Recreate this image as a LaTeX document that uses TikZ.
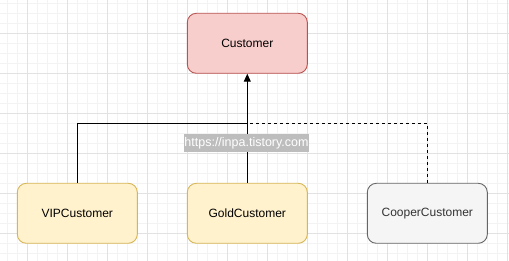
\documentclass[tikz,border=0pt]{standalone}
\usepackage{fontspec}
\setmainfont{Liberation Sans}
\usetikzlibrary{arrows.meta}
\definecolor{redfill}{HTML}{F8CECC}
\definecolor{redline}{HTML}{B85450}
\definecolor{yelfill}{HTML}{FFF2CC}
\definecolor{yelline}{HTML}{D6B656}
\definecolor{grayfill}{HTML}{F5F5F5}
\definecolor{grayline}{HTML}{666666}
\definecolor{graytext}{HTML}{333333}
\definecolor{gridminor}{HTML}{F3F3F3}
\definecolor{gridmajor}{HTML}{E2E2E2}
\definecolor{wmark}{HTML}{BDBDBD}
\begin{document}
\begin{tikzpicture}[x=1pt,y=-1pt,
  box/.style={rectangle,rounded corners=9pt,minimum width=120pt,minimum height=60pt,
    line width=0.9pt,font=\fontsize{12}{14}\selectfont,inner sep=0pt},
  conn/.style={line width=1pt,black},
]
\useasboundingbox (0,0) rectangle (509,261);
\fill[white] (0,0) rectangle (509,261);
% grid
\foreach \i in {0,...,50} \draw[gridminor,line width=0.8pt] (7.3+10*\i,0) -- (7.3+10*\i,261);
\foreach \i in {0,...,25} \draw[gridminor,line width=0.8pt] (0,3.3+10*\i) -- (509,3.3+10*\i);
\foreach \i in {0,...,12} \draw[gridmajor,line width=0.8pt] (27.3+40*\i,0) -- (27.3+40*\i,261);
\foreach \i in {0,...,6} \draw[gridmajor,line width=0.8pt] (0,33.3+40*\i) -- (509,33.3+40*\i);
% nodes
\node[box,fill=redfill,draw=redline] (cust) at (247.3,43.3) {Customer};
\node[box,fill=yelfill,draw=yelline] (vip) at (77.3,213.3) {VIPCustomer};
\node[box,fill=yelfill,draw=yelline] (gold) at (247.3,213.3) {GoldCustomer};
\node[box,fill=grayfill,draw=grayline,text=graytext] (cooper) at (427.3,213.3) {CooperCustomer};
\coordinate (j) at (247.3,123.3);
% connectors
\draw[conn] (vip.north) |- (j);
\draw[conn,dash pattern=on 3pt off 3pt] (cooper.north) |- (j);
\draw[conn,-{Triangle[length=8pt,width=7pt]}] (gold.north) -- (cust.south);
% watermark
\node[fill=wmark,text=white,inner sep=0pt,minimum width=125pt,minimum height=18pt,
  font=\fontsize{12.5}{14}\selectfont] (wm) at (246.5,143) {https://inpa.tistory.com};
\end{tikzpicture}
\end{document}
